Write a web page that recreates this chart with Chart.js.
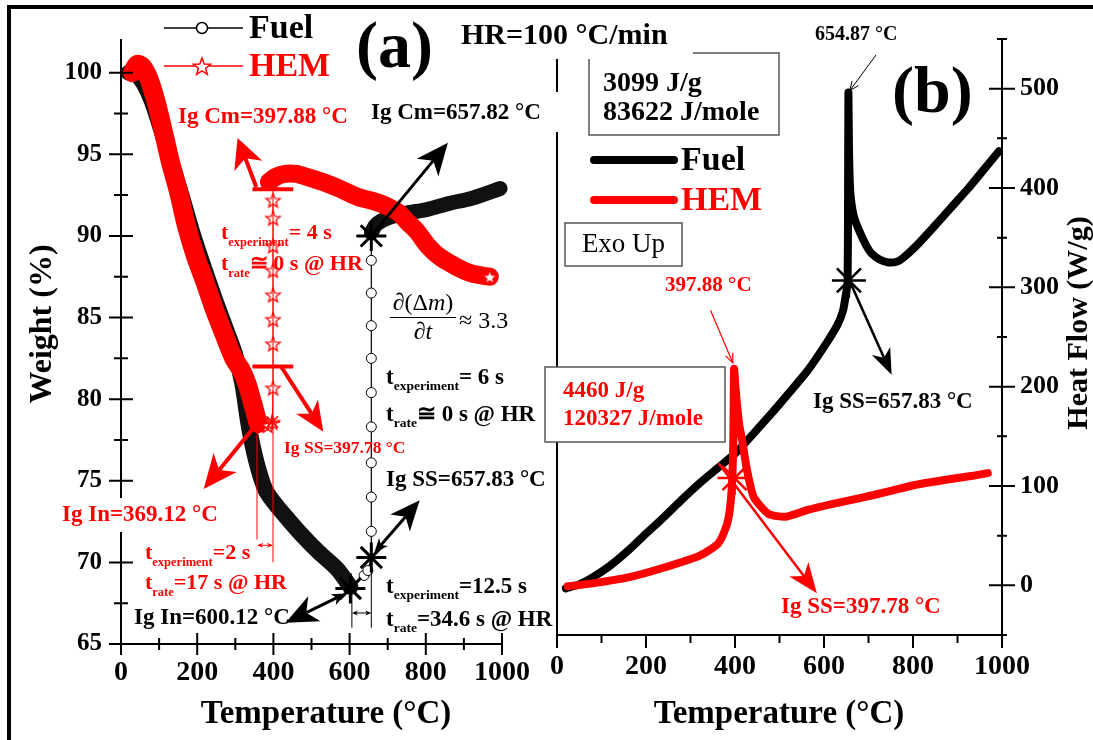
<!DOCTYPE html>
<html>
<head>
<meta charset="utf-8">
<title>TGA / DSC</title>
<script src="https://cdn.jsdelivr.net/npm/chart.js@4.4.1/dist/chart.umd.min.js"></script>
<style>
  body { margin: 0; background: #fff; }
  #wrap { position: relative; width: 1093px; height: 740px; overflow: hidden; background: #fff; }
  #wrap canvas { position: absolute; left: 0; top: 0; }
</style>
</head>
<body>
<div id="wrap">
  <canvas id="tga" width="1093" height="740"></canvas>
  <canvas id="dsc" width="1093" height="740"></canvas>
</div>
<script>
const SERIF = '"Liberation Serif", "Times New Roman", serif';
const RED = '#ff0000';
const BLACK = '#000000';

// ---- (a) TGA : temperature (°C) vs weight (%)
const fuelTemp = [20, 40, 60, 80, 100, 120, 140, 160, 190, 220, 250, 280, 300, 318, 333, 345, 362, 380, 404, 440, 478, 520, 567, 602];
const fuelWeight = [100, 99.9, 99.3, 98.3, 96.9, 95.4, 93.9, 92.4, 90.0, 87.9, 85.9, 84.0, 82.7, 81.0, 78.7, 77.2, 75.6, 74.4, 73.6, 72.6, 71.6, 70.6, 69.6, 68.5];
const fuelJumpTemp = [602, 638, 648, 657, 657, 657, 657, 657, 657, 657, 657, 657, 657, 657];
const fuelJumpWeight = [68.4, 69.2, 69.5, 70.3, 71.9, 74.0, 76.1, 78.3, 80.4, 82.5, 84.5, 86.5, 88.5, 90.0];
const fuelTemp2 = [657, 670, 700, 750, 800, 863, 920, 995];
const fuelWeight2 = [90.2, 90.7, 91.1, 91.4, 91.6, 92.0, 92.3, 92.9];

const hemTemp = [30, 42, 55, 70, 85, 100, 115, 130, 150, 172, 195, 220, 245, 270, 296, 315, 330, 345, 360];
const hemWeight = [100, 100.5, 100.4, 99.8, 98.8, 97.5, 96.0, 94.5, 92.8, 90.6, 88.8, 87.2, 85.5, 84.0, 82.5, 81.8, 81.0, 79.8, 78.5];
const hemJumpTemp = [362, 385, 397, 399, 399, 399, 399, 399, 399, 399, 399];
const hemJumpWeight = [78.5, 78.4, 78.6, 80.7, 83.4, 84.9, 86.4, 87.9, 89.4, 91.1, 92.2];
const hemTemp2 = [388, 405, 430, 460, 490, 530, 573, 620, 667, 700, 730, 750, 776, 805, 837, 881, 920, 968];
const hemWeight2 = [93.3, 93.6, 93.8, 93.8, 93.6, 93.3, 92.9, 92.4, 92.1, 91.8, 91.4, 90.9, 90.3, 89.4, 88.7, 88.1, 87.7, 87.5];

// ignition points (asterisks)
const igFuelTemp = [657, 657, 602];
const igFuelWeight = [90.0, 70.3, 68.4];
const igHemTemp = [369, 397];
const igHemWeight = [78.5, 78.6];

// ---- (b) DSC : temperature (°C) vs heat flow (W/g)
const dscFuelTemp = [20, 50, 80, 120, 160, 200, 241, 280, 321, 361, 401, 440, 482, 522, 563, 600, 630, 643, 650, 653, 654, 654.87, 656, 658, 661, 668, 682, 695, 707, 725, 745, 765, 779, 810, 845, 885, 925, 960, 993];
const dscFuelHeat = [-3, 1, 8, 20, 35, 52, 69, 86, 103, 118, 133, 152, 173, 194, 216, 240, 262, 277, 295, 306, 380, 496, 445, 405, 387, 370, 354, 342, 334, 328, 325, 326, 330, 343, 360, 380, 400, 419, 437];
const dscHemTemp = [24, 80, 160, 241, 321, 362, 381, 388, 393, 396, 397, 398, 401, 405, 410, 415, 427, 442, 475, 514, 564, 620, 683, 750, 804, 870, 930, 968];
const dscHemHeat = [-1, 2, 8, 18, 30, 42, 60, 75, 100, 140, 180, 218, 200, 180, 160, 149, 116, 89, 72, 69, 76, 82, 88, 95, 101, 106, 110, 113];
const igDscTemp = [656, 399];
const igDscHeat = [307, 108];

// ---- axis tick labels
const tempTicks = [0, 200, 400, 600, 800, 1000];
const weightTicks = [65, 70, 75, 80, 85, 90, 95, 100];
const heatTicks = [0, 100, 200, 300, 400, 500];

const zip = (xs, ys) => xs.map((x, i) => ({ x: x, y: ys[i] }));

function starPath(g, cx, cy, r) {
  g.beginPath();
  for (let i = 0; i < 10; i++) {
    const a = -Math.PI / 2 + i * Math.PI / 5;
    const rr = i % 2 ? r * 0.42 : r;
    g.lineTo(cx + rr * Math.cos(a), cy + rr * Math.sin(a));
  }
  g.closePath();
}
function starImage(r) {
  const c = document.createElement('canvas');
  c.width = c.height = Math.ceil(2 * r + 4);
  const g = c.getContext('2d');
  starPath(g, c.width / 2, c.height / 2 + 1, r);
  g.fillStyle = '#fff'; g.fill();
  g.lineWidth = 1.3; g.strokeStyle = RED; g.stroke();
  return c;
}
const STAR = starImage(7.5);

function label(g, str, x, cy, size, color, opts) {
  opts = opts || {};
  g.save();
  g.font = (opts.italic ? 'italic ' : '') + (opts.normal ? '' : 'bold ') + size + 'px ' + SERIF;
  g.fillStyle = color;
  g.textAlign = opts.align || 'left';
  g.textBaseline = 'middle';
  if (opts.rotate) { g.translate(x, cy); g.rotate(opts.rotate); g.fillText(str, 0, 0); }
  else g.fillText(str, x, cy);
  g.restore();
}
// "t" with a subscript, then the rest of the line
function tSub(g, x, cy, sub, rest, color, size, subSize) {
  g.save();
  g.fillStyle = color; g.textBaseline = 'alphabetic';
  const base = cy + size * 0.33;
  g.font = 'bold ' + size + 'px ' + SERIF;
  g.fillText('t', x, base);
  const w = g.measureText('t').width;
  g.font = 'bold ' + subSize + 'px ' + SERIF;
  g.fillText(sub, x + w, base + subSize * 0.5);
  const sw = g.measureText(sub).width;
  g.font = 'bold ' + size + 'px ' + SERIF;
  g.fillText(rest, x + w + sw, base);
  g.restore();
}
function pieces(g, parts, x, cy, size, align) {
  g.save();
  g.textBaseline = 'middle'; g.fillStyle = '#000';
  let total = 0;
  parts.forEach(p => { g.font = (p[1] ? 'italic ' : '') + size + 'px ' + SERIF; total += g.measureText(p[0]).width; });
  let cx = align === 'center' ? x - total / 2 : x;
  parts.forEach(p => {
    g.font = (p[1] ? 'italic ' : '') + size + 'px ' + SERIF;
    g.fillText(p[0], cx, cy);
    cx += g.measureText(p[0]).width;
  });
  g.restore();
}

function arrowHead(g, x, y, ang, len, wid) {
  const c = Math.cos(ang), s = Math.sin(ang);
  g.beginPath();
  g.moveTo(x, y);
  g.lineTo(x - len * c - wid / 2 * s, y - len * s + wid / 2 * c);
  g.lineTo(x - len * 0.72 * c, y - len * 0.72 * s);
  g.lineTo(x - len * c + wid / 2 * s, y - len * s - wid / 2 * c);
  g.closePath();
  g.fill();
}
function drawArrow(g, a, px, py) {
  const x1 = px(a.from[0]), y1 = py(a.from[1]), x2 = px(a.to[0]), y2 = py(a.to[1]);
  const ang = Math.atan2(y2 - y1, x2 - x1), c = Math.cos(ang), s = Math.sin(ang);
  g.save();
  g.strokeStyle = a.color; g.fillStyle = a.color; g.lineWidth = a.lw;
  const sx = a.back ? x1 + c * a.back * 0.7 : x1, sy = a.back ? y1 + s * a.back * 0.7 : y1;
  const ex = a.open ? x2 : x2 - c * a.hl * 0.72, ey = a.open ? y2 : y2 - s * a.hl * 0.72;
  g.beginPath(); g.moveTo(sx, sy); g.lineTo(ex, ey); g.stroke();
  if (a.open) {
    g.beginPath();
    g.moveTo(x2 - a.hl * Math.cos(ang - 0.4), y2 - a.hl * Math.sin(ang - 0.4));
    g.lineTo(x2, y2);
    g.lineTo(x2 - a.hl * Math.cos(ang + 0.4), y2 - a.hl * Math.sin(ang + 0.4));
    g.stroke();
  } else {
    arrowHead(g, x2, y2, ang, a.hl, a.hw);
  }
  if (a.back) arrowHead(g, x1, y1, ang + Math.PI, a.back, a.back * 0.85);
  g.restore();
}
function drawLine(g, l, px, py) {
  g.save();
  g.strokeStyle = l.color; g.lineWidth = l.lw;
  g.beginPath();
  l.pts.forEach((p, i) => i ? g.lineTo(px(p[0]), py(p[1])) : g.moveTo(px(p[0]), py(p[1])));
  g.stroke();
  g.restore();
}
function midTicks(vals, min, max) {
  const out = [];
  const step = vals[1] - vals[0];
  for (let v = vals[0] - step / 2; v <= max + 1e-9; v += step) if (v >= min - 1e-9 && !vals.includes(v)) out.push(v);
  return out;
}

// annotations anchored to data coordinates
const arrowsA = [
  { from: [355, 93.0], to: [306, 96.0], color: RED, lw: 4, hl: 30, hw: 30 },
  { from: [420, 82.0], to: [531, 78.0], color: RED, lw: 4, hl: 30, hw: 26 },
  { from: [357, 78.5], to: [217, 74.5], color: RED, lw: 4, hl: 34, hw: 30 },
  { from: [657, 90.0], to: [858, 95.7], color: BLACK, lw: 3, hl: 32, hw: 28 },
  { from: [665, 70.6], to: [784, 73.8], color: BLACK, lw: 3, hl: 30, hw: 26, back: 14 },
  { from: [590, 68.1], to: [432, 66.3], color: BLACK, lw: 3, hl: 32, hw: 28, back: 14 },
  { from: [357, 71.05], to: [399, 71.05], color: RED, lw: 1, hl: 6, hw: 5, back: 6 },
  { from: [606, 66.9], to: [657, 66.9], color: BLACK, lw: 1, hl: 6, hw: 5, back: 6 }
];
const linesA = [
  { pts: [[345, 92.85], [452, 92.85]], color: RED, lw: 4 },
  { pts: [[345, 82.0], [452, 82.0]], color: RED, lw: 4 },
  { pts: [[399, 92.85], [399, 70.0]], color: RED, lw: 1 },
  { pts: [[357, 78.5], [357, 71.4]], color: RED, lw: 1 },
  { pts: [[606, 68.4], [606, 66.0]], color: BLACK, lw: 1 },
  { pts: [[657, 70.3], [657, 66.0]], color: BLACK, lw: 1 }
];
const arrowsB = [
  { from: [657, 307], to: [752, 212], color: BLACK, lw: 2.5, hl: 26, hw: 20 },
  { from: [363, 123], to: [584, -8], color: RED, lw: 2.5, hl: 30, hw: 24 },
  { from: [717, 534], to: [658, 498], color: BLACK, lw: 1, hl: 10, open: true },
  { from: [345, 277], to: [395, 224], color: RED, lw: 1.2, hl: 10, open: true }
];

const tgaDecor = {
  id: 'tgaDecor',
  afterDraw(chart) {
    const g = chart.ctx, xs = chart.scales.x, ys = chart.scales.y, ca = chart.chartArea;
    const px = v => xs.getPixelForValue(v), py = v => ys.getPixelForValue(v);
    g.save();
    // figure frame (top and left only)
    g.fillStyle = '#000';
    g.fillRect(7, 5, 1086, 4);
    g.fillRect(7, 5, 4, 735);
    // crossing tick marks
    g.strokeStyle = '#000'; g.lineWidth = 2;
    g.beginPath();
    tempTicks.forEach(v => { g.moveTo(px(v), ca.bottom - 11); g.lineTo(px(v), ca.bottom + 11); });
    midTicks(tempTicks, 0, 1000).forEach(v => { g.moveTo(px(v), ca.bottom - 6); g.lineTo(px(v), ca.bottom + 6); });
    weightTicks.forEach(v => { g.moveTo(ca.left - 12, py(v)); g.lineTo(ca.left + 12, py(v)); });
    midTicks(weightTicks, 65, 100).forEach(v => { g.moveTo(ca.left - 7, py(v)); g.lineTo(ca.left + 7, py(v)); });
    g.stroke();
    g.restore();

    linesA.forEach(l => drawLine(g, l, px, py));
    arrowsA.forEach(a => drawArrow(g, a, px, py));

    // legend
    g.save();
    g.lineWidth = 1.5; g.strokeStyle = '#000';
    g.beginPath(); g.moveTo(164, 28); g.lineTo(243, 28); g.stroke();
    g.beginPath(); g.arc(202, 28, 5.5, 0, Math.PI * 2); g.fillStyle = '#fff'; g.fill(); g.stroke();
    g.strokeStyle = RED;
    g.beginPath(); g.moveTo(164, 66); g.lineTo(243, 66); g.stroke();
    starPath(g, 202, 67, 9); g.fillStyle = '#fff'; g.fill(); g.stroke();
    g.restore();
    label(g, 'Fuel', 249, 29, 34, BLACK);
    label(g, 'HEM', 249, 67, 34, RED);
    label(g, '(a)', 356, 50, 66, BLACK);
    label(g, 'HR=100 \u00B0C/min', 461, 36, 30, BLACK);

    // axis titles
    label(g, 'Weight (%)', 43, 324, 32, BLACK, { align: 'center', rotate: -Math.PI / 2 });
    label(g, 'Temperature (\u00B0C)', 326, 714, 33, BLACK, { align: 'center' });

    // annotation text
    label(g, 'Ig Cm=397.88 \u00B0C', 178, 117, 23, RED);
    label(g, 'Ig Cm=657.82 \u00B0C', 371, 113, 23, BLACK);
    label(g, 'Ig SS=397.78 \u00B0C', 284, 448, 17.5, RED);
    label(g, 'Ig SS=657.83 \u00B0C', 386, 480, 23, BLACK);
    g.fillStyle = '#fff'; g.fillRect(60, 498, 164, 34);
    label(g, 'Ig In=369.12 \u00B0C', 62, 515, 23, RED);
    label(g, 'Ig In=600.12 \u00B0C', 134, 618, 23, BLACK);

    tSub(g, 221, 232, 'experiment', '= 4 s', RED, 22, 12.5);
    tSub(g, 221, 263, 'rate', '\u2245 0 s @ HR', RED, 22, 12.5);
    tSub(g, 386, 376, 'experiment', '= 6 s', BLACK, 23, 13.5);
    tSub(g, 386, 413, 'rate', '\u2245 0 s @ HR', BLACK, 23, 13.5);
    tSub(g, 145, 552, 'experiment', '=2 s', RED, 22, 12.5);
    tSub(g, 145, 582, 'rate', '=17 s @ HR', RED, 22, 12.5);
    tSub(g, 386, 585, 'experiment', '=12.5 s', BLACK, 23, 13.5);
    tSub(g, 386, 618, 'rate', '=34.6 s @ HR', BLACK, 23, 13.5);

    // d(Δm)/dt ≈ 3.3
    pieces(g, [['\u2202', true], ['(', false], ['\u0394', false], ['m', true], [')', false]], 423, 304, 24, 'center');
    g.save(); g.strokeStyle = '#000'; g.lineWidth = 1; g.beginPath(); g.moveTo(390, 317.5); g.lineTo(456, 317.5); g.stroke(); g.restore();
    pieces(g, [['\u2202', true], ['t', true]], 423, 333, 24, 'center');
    pieces(g, [['\u2248 3.3', false]], 459, 322, 24, 'left');
  }
};

const dscDecor = {
  id: 'dscDecor',
  afterDraw(chart) {
    const g = chart.ctx, xs = chart.scales.x, ys = chart.scales.y, ca = chart.chartArea;
    const px = v => xs.getPixelForValue(v), py = v => ys.getPixelForValue(v);
    g.save();
    g.strokeStyle = '#000'; g.lineWidth = 2;
    g.beginPath();
    tempTicks.forEach(v => { g.moveTo(px(v), ca.bottom); g.lineTo(px(v), ca.bottom + 13); });
    midTicks(tempTicks, 0, 1000).forEach(v => { g.moveTo(px(v), ca.bottom); g.lineTo(px(v), ca.bottom + 8); });
    heatTicks.forEach(v => { g.moveTo(ca.right - 13, py(v)); g.lineTo(ca.right + 13, py(v)); });
    midTicks(heatTicks, -50, 550).forEach(v => { g.moveTo(ca.right - 5, py(v)); g.lineTo(ca.right + 5, py(v)); });
    // left frame line of panel (b), interrupted by the text boxes
    [[59, 92], [132, 367], [442, ca.bottom]].forEach(s => { g.moveTo(ca.left, s[0]); g.lineTo(ca.left, s[1]); });
    g.stroke();

    // boxes
    g.strokeStyle = '#555'; g.lineWidth = 1.5;
    g.beginPath(); g.moveTo(693, 53); g.lineTo(779, 53); g.lineTo(779, 135); g.lineTo(589, 135); g.lineTo(589, 59); g.stroke();
    g.strokeRect(565, 223, 117, 43);
    g.fillStyle = '#fff'; g.fillRect(545, 367, 180, 75);
    g.strokeRect(545, 367, 180, 75);
    // legend lines
    g.lineCap = 'round'; g.lineWidth = 8;
    g.strokeStyle = '#000'; g.beginPath(); g.moveTo(594, 160); g.lineTo(674, 160); g.stroke();
    g.strokeStyle = RED; g.beginPath(); g.moveTo(594, 200); g.lineTo(674, 200); g.stroke();
    g.restore();

    arrowsB.forEach(a => drawArrow(g, a, px, py));

    label(g, 'Fuel', 681, 161, 34, BLACK);
    label(g, 'HEM', 681, 201, 34, RED);
    label(g, '654.87 \u00B0C', 815, 35, 20, BLACK);
    label(g, '(b)', 892, 95, 66, BLACK);
    label(g, '3099 J/g', 603, 84, 28, BLACK);
    label(g, '83622 J/mole', 603, 113, 28, BLACK);
    label(g, 'Exo Up', 623.5, 245, 27, BLACK, { normal: true, align: 'center' });
    label(g, '397.88 \u00B0C', 665, 286, 21, RED);
    label(g, '4460 J/g', 563, 391, 23, RED);
    label(g, '120327 J/mole', 563, 419, 23, RED);
    label(g, 'Ig SS=657.83 \u00B0C', 813, 402, 23, BLACK);
    label(g, 'Ig SS=397.78 \u00B0C', 781, 607, 23, RED);
    label(g, 'Heat Flow (W/g)', 1079, 323, 30, BLACK, { align: 'center', rotate: -Math.PI / 2 });
    label(g, 'Temperature (\u00B0C)', 779, 714, 33, BLACK, { align: 'center' });
  }
};

function baseScale(min, max, tickVals, fit, pad, size) {
  return {
    type: 'linear', min: min, max: max,
    afterBuildTicks: axis => { axis.ticks = tickVals.map(v => ({ value: v })); },
    afterFit: fit,
    grid: { display: false, drawTicks: false },
    border: { display: true, color: '#000', width: 2 },
    ticks: { color: '#000', padding: pad, autoSkip: false, maxRotation: 0,
             font: { family: SERIF, size: size, weight: 'bold' }, callback: v => String(v) }
  };
}
const common = {
  responsive: false, animation: false, events: [],
  plugins: { legend: { display: false }, tooltip: { enabled: false } }
};

const thick = (data, color, w) => ({ data: data, borderColor: color, borderWidth: w, pointRadius: 0,
  borderCapStyle: 'round', borderJoinStyle: 'round', tension: 0.3, clip: false });

new Chart(document.getElementById('tga'), {
  type: 'line',
  data: {
    datasets: [
      { data: zip(igFuelTemp, igFuelWeight), showLine: false, pointStyle: 'star', pointRadius: 15,
        borderColor: BLACK, pointBorderWidth: 3, clip: false },
      { data: zip(igHemTemp, igHemWeight), showLine: false, pointStyle: 'star', pointRadius: 8,
        borderColor: RED, pointBorderWidth: 1.5, clip: false },
      { data: zip(hemJumpTemp, hemJumpWeight), borderColor: RED, borderWidth: 1, tension: 0,
        pointStyle: STAR, pointRadius: ctx => ctx.dataIndex === 0 ? 0 : 5, clip: false },
      { data: zip(fuelJumpTemp, fuelJumpWeight), borderColor: BLACK, borderWidth: 1.2, tension: 0,
        pointStyle: 'circle', pointBackgroundColor: '#fff', pointBorderColor: BLACK, pointBorderWidth: 1,
        pointRadius: ctx => [0, 3, 13].includes(ctx.dataIndex) ? 0 : 5, clip: false },
      Object.assign(thick(zip(hemTemp2, hemWeight2), RED, 18),
        { pointStyle: STAR, pointRadius: ctx => ctx.dataIndex === hemTemp2.length - 1 ? 5 : 0 }),
      thick(zip(hemTemp, hemWeight), RED, 19),
      thick(zip(fuelTemp2, fuelWeight2), '#111', 15),
      thick(zip(fuelTemp, fuelWeight), '#111', 16)
    ]
  },
  options: Object.assign({}, common, {
    layout: { padding: { left: 0, top: 40, right: 591, bottom: 0 } },
    scales: {
      x: baseScale(0, 1000, tempTicks, s => { s.height = 96; }, 12, 28),
      y: baseScale(65, 102, weightTicks, s => { s.width = 121; }, 19, 25)
    }
  }),
  plugins: [tgaDecor]
});

new Chart(document.getElementById('dsc'), {
  type: 'line',
  data: {
    datasets: [
      { data: zip(igDscTemp, igDscHeat), showLine: false, pointStyle: 'star', pointRadius: 17,
        borderColor: ctx => ctx.dataIndex === 0 ? BLACK : RED, pointBorderWidth: 2.5, clip: false },
      { data: zip(dscHemTemp, dscHemHeat), borderColor: RED, borderWidth: 8, pointRadius: 0,
        borderCapStyle: 'round', borderJoinStyle: 'round', tension: 0.2, clip: false },
      { data: zip(dscFuelTemp, dscFuelHeat), borderColor: BLACK, borderWidth: 8, pointRadius: 0,
        borderCapStyle: 'round', borderJoinStyle: 'round', tension: 0.2, clip: false }
    ]
  },
  options: Object.assign({}, common, {
    layout: { padding: { left: 557, top: 39, right: 0, bottom: 0 } },
    scales: {
      x: baseScale(0, 1000, tempTicks, s => { s.height = 105; }, 15, 28),
      y: Object.assign(baseScale(-50, 550, heatTicks, s => { s.width = 91; }, 18, 26), { position: 'right' })
    }
  }),
  plugins: [dscDecor]
});
</script>
</body>
</html>
